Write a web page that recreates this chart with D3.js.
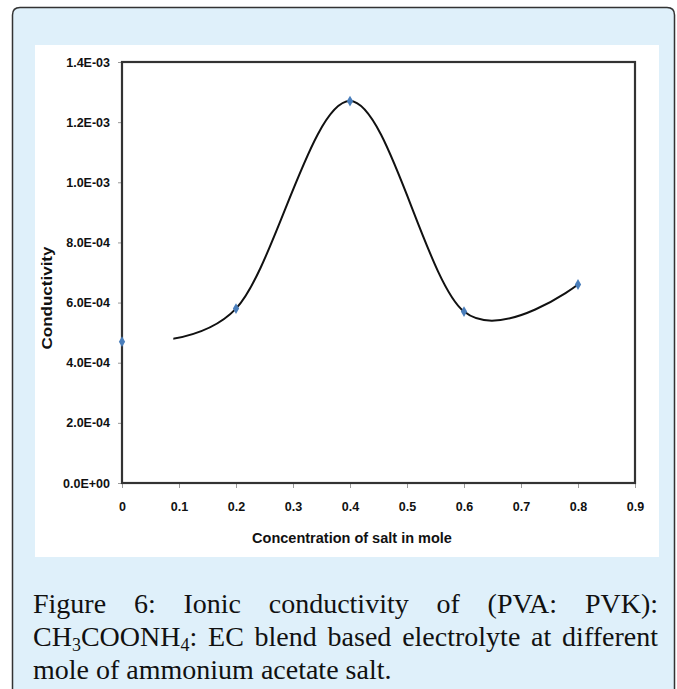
<!DOCTYPE html>
<html>
<head>
<meta charset="utf-8">
<style>
  body { margin: 0; background: #ffffff; }
  svg { display: block; }
  .axis-title { font-family: "Liberation Sans", Arial, sans-serif; font-weight: bold; font-size: 14.5px; fill: #111; }
  .caption { font-family: "Liberation Serif", "Times New Roman", serif; font-size: 28px; fill: #111; }
</style>
</head>
<body>
<svg id="chart" width="677" height="689"></svg>
<script src="https://cdnjs.cloudflare.com/ajax/libs/d3/7.8.5/d3.min.js"></script>
<script>
// data
var concentration = [0, 0.2, 0.4, 0.6, 0.8];
var conductivity = [4.7e-4, 5.8e-4, 1.27e-3, 5.7e-4, 6.6e-4];
var xTicks = [0, 0.1, 0.2, 0.3, 0.4, 0.5, 0.6, 0.7, 0.8, 0.9];
var yTicks = [0, 2e-4, 4e-4, 6e-4, 8e-4, 1e-3, 1.2e-3, 1.4e-3];
var curveStart = 0.09;   // the smooth line is not drawn before this x in the original

var captionLines = [
  ["Figure", "6:", "Ionic", "conductivity", "of", "(PVA:", "PVK):"],
  ["CH{3}COONH{4}:", "EC", "blend", "based", "electrolyte", "at", "different"],
  ["mole", "of", "ammonium", "acetate", "salt."]
];

var svg = d3.select("#chart");

// card + white panel
svg.append("path")
  .attr("d", "M12.5,700 L12.5,15 Q12.5,7.5 20,7.5 L667,7.5 Q674.5,7.5 674.5,15 L674.5,700")
  .attr("fill", "#dff0fa").attr("stroke", "#333").attr("stroke-width", 1.5);
svg.append("rect").attr("x", 35).attr("y", 45).attr("width", 624).attr("height", 512).attr("fill", "#fff");

var x = d3.scaleLinear().domain([0, 0.9]).range([122, 635]);
var y = d3.scaleLinear().domain([0, 1.4e-3]).range([483, 62]);

function sci(d) {
  if (d === 0) return "0.0E+00";
  var e = Math.floor(Math.log10(d) + 1e-9);
  var m = d / Math.pow(10, e);
  return m.toFixed(1) + "E" + (e < 0 ? "-" : "+") + String(Math.abs(e)).padStart(2, "0");
}

function styleAxis(g) {
  g.select(".domain").remove();
  g.attr("font-size", null).attr("font-family", null);
  g.selectAll(".tick line").attr("stroke", "#9a9a9a");
  g.selectAll(".tick text")
    .style("font-family", "'Liberation Sans', Arial, sans-serif")
    .style("font-weight", "bold")
    .style("font-size", "12.5px")
    .attr("fill", "#111");
}

svg.append("g").attr("transform", "translate(122,0)")
  .call(d3.axisLeft(y).tickValues(yTicks).tickFormat(sci).tickSize(4).tickPadding(8))
  .call(styleAxis);

svg.append("g").attr("transform", "translate(0,483)")
  .call(d3.axisBottom(x).tickValues(xTicks).tickFormat(function(d){ return d === 0 ? "0" : d.toFixed(1); })
    .tickSize(5).tickPadding(14))
  .call(styleAxis);

// smooth line
svg.append("clipPath").attr("id", "lineclip")
  .append("rect").attr("x", x(curveStart)).attr("y", 0).attr("width", 677).attr("height", 689);

var pts = concentration.map(function(c, i){ return [c, conductivity[i]]; });
var line = d3.line()
  .x(function(d){ return x(d[0]); })
  .y(function(d){ return y(d[1]); })
  .curve(d3.curveCardinal.tension(0));

svg.append("path").datum(pts)
  .attr("clip-path", "url(#lineclip)")
  .attr("d", line)
  .attr("fill", "none").attr("stroke", "#111").attr("stroke-width", 2);

// plot frame
svg.append("rect")
  .attr("x", x(0)).attr("y", y(1.4e-3))
  .attr("width", x(0.9) - x(0)).attr("height", y(0) - y(1.4e-3))
  .attr("fill", "none").attr("stroke", "#333").attr("stroke-width", 2.2);

// markers
svg.selectAll(".pt").data(pts).enter().append("path")
  .attr("class", "pt")
  .attr("transform", function(d){ return "translate(" + x(d[0]) + "," + y(d[1]) + ")"; })
  .attr("d", d3.symbol().type(d3.symbolDiamond).size(34))
  .attr("fill", "#4a7ebb");

// axis titles
svg.append("text").attr("class", "axis-title")
  .attr("x", 352).attr("y", 543).attr("text-anchor", "middle")
  .text("Concentration of salt in mole");
svg.append("text").attr("class", "axis-title")
  .attr("transform", "translate(52,298) rotate(-90)")
  .attr("text-anchor", "middle")
  .attr("textLength", 103).attr("lengthAdjust", "spacingAndGlyphs")
  .text("Conductivity");

// caption, justified like the original
var capLeft = 33, capRight = 658, baselines = [613, 646, 679];

function addWord(g, word) {
  var t = g.append("text").attr("class", "caption");
  var parts = word.split(/(\{\d\})/);
  var shifted = false;
  parts.forEach(function(p) {
    if (!p) return;
    var m = p.match(/^\{(\d)\}$/);
    if (m) {
      t.append("tspan").attr("font-size", "18px").attr("dy", 5).text(m[1]);
      shifted = true;
    } else {
      var ts = t.append("tspan").text(p);
      if (shifted) { ts.attr("dy", -5); shifted = false; }
    }
  });
  return t;
}

captionLines.forEach(function(words, li) {
  var g = svg.append("g");
  var texts = words.map(function(w){ return addWord(g, w); });
  var widths = texts.map(function(t){ return t.node().getComputedTextLength(); });
  var total = d3.sum(widths);
  var last = li === captionLines.length - 1;
  var gap = last ? 7 : (capRight - capLeft - total) / (words.length - 1);
  var cx = capLeft;
  texts.forEach(function(t, i) {
    t.attr("x", cx).attr("y", baselines[li]);
    t.selectAll("tspan").filter(function(d, j){ return j === 0; }).attr("x", cx);
    cx += widths[i] + gap;
  });
});
</script>
</body>
</html>
